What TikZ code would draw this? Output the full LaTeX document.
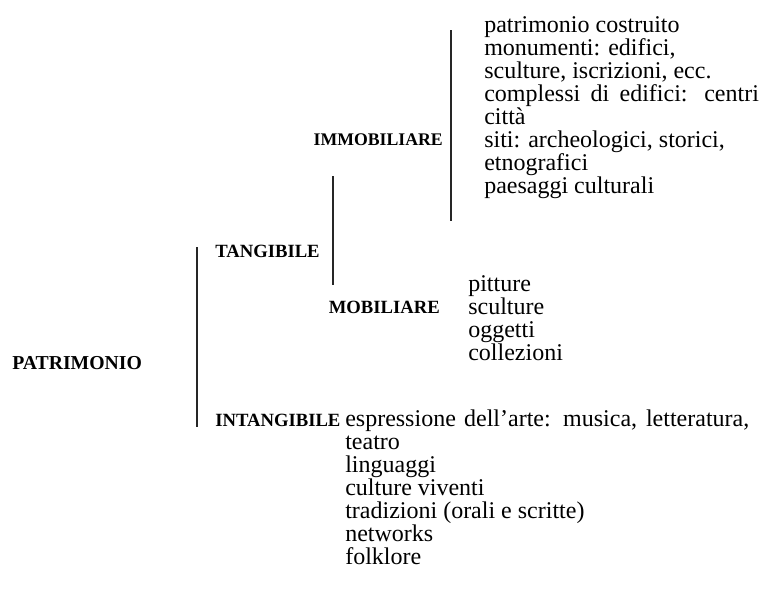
\documentclass[tikz,border=0pt]{standalone}
\usepackage{fontspec}
\setmainfont{Liberation Serif}
\tikzset{
  body/.style={anchor=base west,inner sep=0pt,font=\fontsize{18}{22}\selectfont},
  lbl/.style={anchor=base west,inner sep=0pt,font=\fontsize{14}{17}\selectfont\bfseries},
  brk/.style={line width=1.1pt,black!85}
}
\begin{document}
\begin{tikzpicture}[x=0.75pt,y=-0.75pt]
\useasboundingbox (0,0) rectangle (764,596);
% level labels
\node[lbl,font=\fontsize{14.8}{17}\selectfont\bfseries] (patr) at (12,369) {PATRIMONIO};
\node[lbl] (tang) at (215,257) {TANGIBILE};
\node[lbl] (intang) at (215,426) {INTANGIBILE};
\node[lbl,anchor=base east,font=\fontsize{13.3}{17}\selectfont\bfseries] (immob) at (443,145) {IMMOBILIARE};
\node[lbl,anchor=base east] (mob) at (440,313) {MOBILIARE};
% immobiliare list
\node[body] (i1) at (484,32) {patrimonio costruito};
\node[body] (i2) at (484,55) {monumenti: edifici,};
\node[body] (i3) at (484,78) {sculture, iscrizioni, ecc.};
\node[body] (i4) at (484,101) {\makebox[206pt][s]{complessi di edifici: centri}};
\node[body] (i5) at (484,124) {città};
\node[body] (i6) at (484,147) {siti: archeologici, storici,};
\node[body] (i7) at (484,170) {etnografici};
\node[body] (i8) at (484,193) {paesaggi culturali};
% mobiliare list
\node[body] (m1) at (468,291) {pitture};
\node[body] (m2) at (468,314) {sculture};
\node[body] (m3) at (468,337) {oggetti};
\node[body] (m4) at (468,360) {collezioni};
% intangibile list
\node[body] (t1) at (345,426) {\makebox[303pt][s]{espressione dell’arte: musica, letteratura,}};
\node[body] (t2) at (345,449) {teatro};
\node[body] (t3) at (345,472) {linguaggi};
\node[body] (t4) at (345,495) {culture viventi};
\node[body] (t5) at (345,518) {tradizioni (orali e scritte)};
\node[body] (t6) at (345,541) {networks};
\node[body] (t7) at (345,564) {folklore};
% brackets
\coordinate (a1) at (451,30);  \coordinate (a2) at (451,221);
\coordinate (b1) at (333,176); \coordinate (b2) at (333,285);
\coordinate (c1) at (197,247); \coordinate (c2) at (197,427);
\draw[brk] (a1) -- (a2);
\draw[brk] (b1) -- (b2);
\draw[brk] (c1) -- (c2);
\end{tikzpicture}
\end{document}
